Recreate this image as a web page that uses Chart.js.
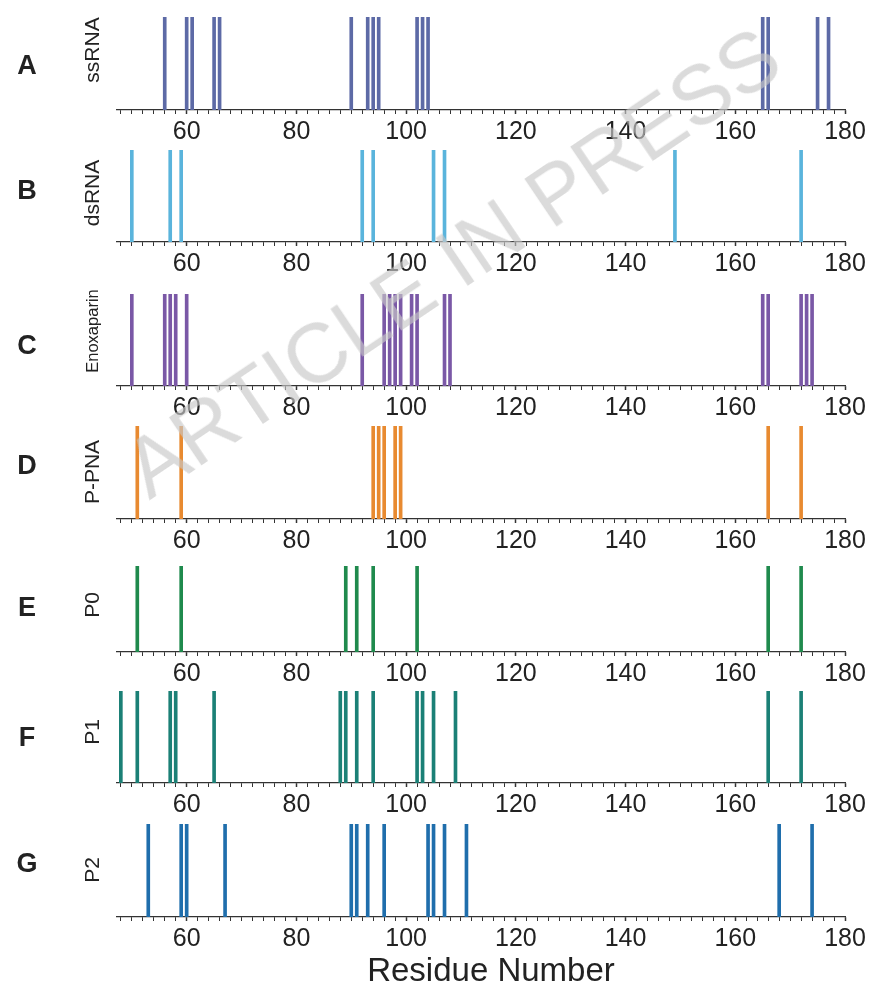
<!DOCTYPE html>
<html>
<head>
<meta charset="utf-8">
<script src="https://cdn.jsdelivr.net/npm/chart.js@4.4.1/dist/chart.umd.min.js"></script>
<style>
  body { margin: 0; background: #fff; }
  #wrap { position: relative; width: 873px; height: 987px; overflow: hidden; font-family: "Liberation Sans", Arial, sans-serif; }
  .panel { position: absolute; left: 0; }
  .letter { position: absolute; font-weight: bold; font-size: 27px; color: #222; transform: translate(-50%, -50%); }
  .ylab { position: absolute; font-size: 21px; color: #222; white-space: nowrap; transform: translate(-50%, -50%) rotate(-90deg); }
  .xtitle { position: absolute; font-size: 33px; color: #222; transform: translate(-50%, -50%); white-space: nowrap; }
  #wm { position: absolute; left: 452px; top: 262px; font-size: 84px; color: rgba(200,200,200,0.65);
        transform: translate(-50%, -50%) rotate(-34deg); white-space: nowrap; pointer-events: none; z-index: 5; }
</style>
</head>
<body>
<div id="wrap"></div>
<script>
// residues that bind, per panel
const panelLetters = ["A", "B", "C", "D", "E", "F", "G"];
const panelNames = ["ssRNA", "dsRNA", "Enoxaparin", "P-PNA", "P0", "P1", "P2"];
const ssRNA = [56, 60, 61, 65, 66, 90, 93, 94, 95, 102, 103, 104, 165, 166, 175, 177];
const dsRNA = [50, 57, 59, 92, 94, 105, 107, 149, 172];
const enoxaparin = [50, 56, 57, 58, 60, 92, 96, 97, 98, 99, 101, 102, 107, 108, 165, 166, 172, 173, 174];
const pPNA = [51, 59, 94, 95, 96, 98, 99, 166, 172];
const p0 = [51, 59, 89, 91, 94, 102, 166, 172];
const p1 = [48, 51, 57, 58, 65, 88, 89, 91, 94, 102, 103, 105, 109, 166, 172];
const p2 = [53, 59, 60, 67, 90, 91, 93, 96, 104, 105, 107, 111, 168, 174];
const xTickLabels = [60, 80, 100, 120, 140, 160, 180];
const xTitle = "Residue Number";

const series = [ssRNA, dsRNA, enoxaparin, pPNA, p0, p1, p2];
const colors = ["#5d6aa6", "#5ab4dc", "#7a58a6", "#e88a30", "#1f8a4d", "#1b8076", "#1f6eac"];

// layout: bar top and axis line y of each panel
const barTops = [17, 150, 294, 426, 566, 691, 824];
const axisYs = [110, 242, 386, 519, 652, 783, 917];
const letterYs = [65, 190, 345, 465, 607, 737, 863];
const ylabYs = [50, 193, 331, 472, 605, 732, 870];
const AXIS_H = 45;

const wrap = document.getElementById("wrap");

series.forEach((vals, i) => {
  const div = document.createElement("div");
  div.className = "panel";
  div.style.top = barTops[i] + "px";
  const h = axisYs[i] - barTops[i] + AXIS_H;
  const canvas = document.createElement("canvas");
  canvas.width = 873;
  canvas.height = h;
  canvas.style.width = "873px";
  canvas.style.height = h + "px";
  div.appendChild(canvas);
  wrap.appendChild(div);

  new Chart(canvas.getContext("2d"), {
    type: "bar",
    data: {
      datasets: [{
        data: vals.map(v => ({ x: v, y: 1 })),
        backgroundColor: colors[i],
        barThickness: 3
      }]
    },
    options: {
      responsive: false,
      animation: false,
      layout: { padding: { left: 117, right: 28, top: 0, bottom: 0 } },
      plugins: { legend: { display: false }, tooltip: { enabled: false } },
      scales: {
        x: {
          type: "linear",
          min: 47.3,
          max: 180,
          offset: false,
          afterBuildTicks: scale => {
            const t = [];
            for (let v = 48; v <= 180; v += 2) t.push({ value: v });
            scale.ticks = t;
          },
          afterFit: scale => { scale.height = AXIS_H; },
          border: { display: true, color: "#333", width: 1.2 },
          grid: {
            drawOnChartArea: false,
            drawTicks: true,
            tickLength: 4,
            offset: false,
            tickColor: "#333",
            tickWidth: ctx => (xTickLabels.includes(ctx.tick && ctx.tick.value) ? 1.5 : 1)
          },
          ticks: {
            autoSkip: false,
            maxRotation: 0,
            padding: 3,
            color: "#222",
            font: { family: "Liberation Sans", size: 25 },
            callback: value => (xTickLabels.includes(value) ? String(value) : "")
          }
        },
        y: { display: false, min: 0, max: 1 }
      }
    }
  });

  const letter = document.createElement("div");
  letter.className = "letter";
  letter.textContent = panelLetters[i];
  letter.style.left = "27px";
  letter.style.top = letterYs[i] + "px";
  wrap.appendChild(letter);

  const ylab = document.createElement("div");
  ylab.className = "ylab";
  ylab.textContent = panelNames[i];
  ylab.style.left = "92px";
  ylab.style.top = ylabYs[i] + "px";
  if (panelNames[i] === "Enoxaparin") ylab.style.fontSize = "16.5px";
  wrap.appendChild(ylab);
});

const title = document.createElement("div");
title.className = "xtitle";
title.textContent = xTitle;
title.style.left = "491px";
title.style.top = "970px";
wrap.appendChild(title);

const wm = document.createElement("div");
wm.id = "wm";
wm.textContent = "ARTICLE IN PRESS";
wrap.appendChild(wm);
</script>
</body>
</html>
